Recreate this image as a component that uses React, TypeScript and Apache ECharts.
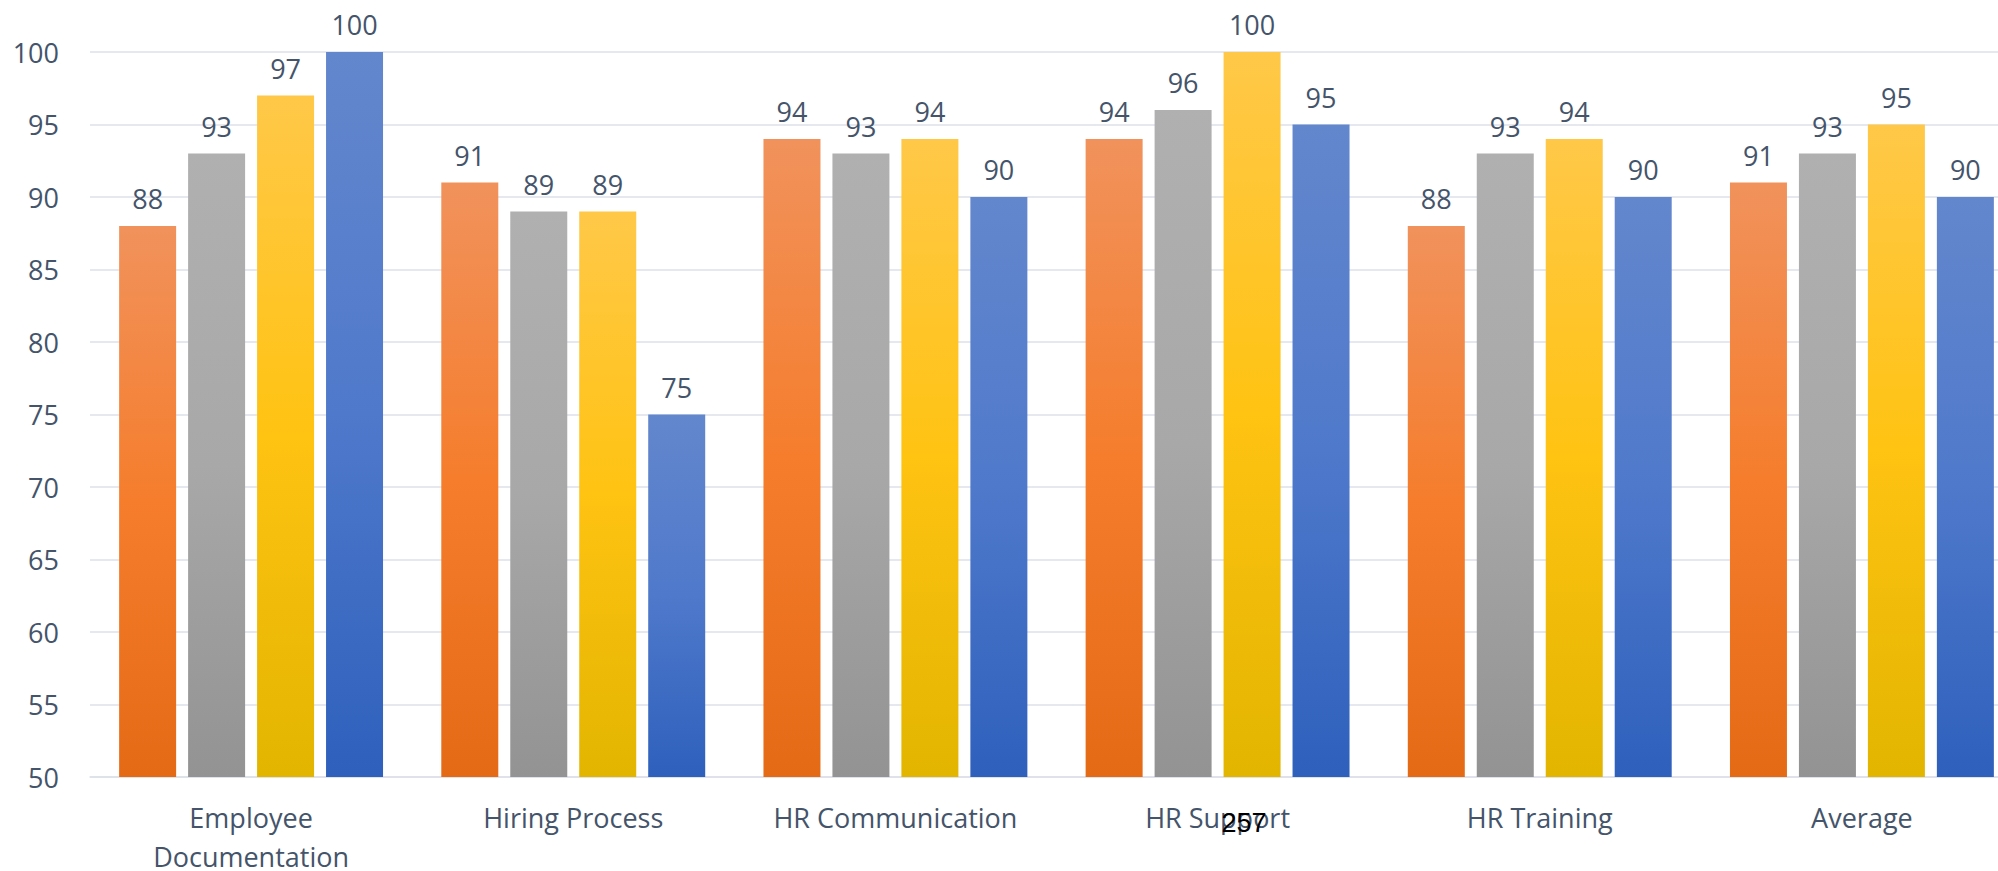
import React, { useEffect, useRef } from "react";
import * as echarts from "echarts";

const categories = [
  "Employee Documentation",
  "Hiring Process",
  "HR Communication",
  "HR Support",
  "HR Training",
  "Average",
];
const seriesNames = ["Series 1", "Series 2", "Series 3", "Series 4"];
const series1 = [88, 91, 94, 94, 88, 91];
const series2 = [93, 89, 93, 96, 93, 93];
const series3 = [97, 89, 94, 100, 94, 95];
const series4 = [100, 75, 90, 95, 90, 90];
const yTicks = { min: 50, max: 100, interval: 5 };
const overlayText = "257";

const gradients = [
  ["#F1925C", "#F57D2C", "#E56A16"],
  ["#B0B0B0", "#A8A8A8", "#939393"],
  ["#FFC848", "#FFC312", "#E2B500"],
  ["#6387CD", "#4F79CB", "#2E60BC"],
];

export default function App() {
  const ref = useRef<HTMLDivElement>(null);
  useEffect(() => {
    document.body.style.margin = "0";
    if (!ref.current) return;
    const chart = echarts.init(ref.current, null, { renderer: "svg" });
    const values = [series1, series2, series3, series4];
    const font = "'Open Sans', sans-serif";
    const textColor = "#44546A";
    chart.setOption({
      animation: false,
      grid: {
        left: 90,
        width: 1933,
        top: 52,
        bottom: 94,
        containLabel: false,
        outerBoundsMode: "none",
      },
      xAxis: {
        type: "category",
        data: categories,
        axisTick: { show: false },
        axisLine: { show: true, lineStyle: { color: "#DCE1E8", width: 1.5 } },
        axisLabel: {
          color: textColor,
          fontFamily: font,
          fontSize: 27,
          lineHeight: 39,
          margin: 21,
          interval: 0,
          formatter: (v: string) => (v.length > 20 ? v.replace(" ", "\n") : v),
        },
      },
      yAxis: {
        type: "value",
        min: yTicks.min,
        max: yTicks.max,
        interval: yTicks.interval,
        axisLine: { show: false },
        axisTick: { show: false },
        splitLine: { lineStyle: { color: "#DCE1E8", width: 1.5 } },
        axisLabel: {
          color: textColor,
          fontFamily: font,
          fontSize: 27,
          margin: 31,
        },
      },
      series: values.map((d, i) => ({
        type: "bar",
        name: seriesNames[i],
        data: d,
        barWidth: 57,
        barGap: "21%",
        itemStyle: {
          color: new echarts.graphic.LinearGradient(0, 0, 0, 1, [
            { offset: 0, color: gradients[i][0] },
            { offset: 0.5, color: gradients[i][1] },
            { offset: 1, color: gradients[i][2] },
          ]),
        },
        label: {
          show: true,
          position: "top",
          distance: 14,
          color: textColor,
          fontFamily: font,
          fontSize: 27,
        },
      })),
      graphic: [
        {
          type: "text",
          x: 1244,
          y: 823,
          style: {
            text: overlayText,
            fontFamily: "'Liberation Sans', Arial, sans-serif",
            fontSize: 27,
            fill: "#000000",
            textAlign: "center",
            textVerticalAlign: "middle",
          },
          z: 100,
        },
      ],
    });
    return () => chart.dispose();
  }, []);
  return <div ref={ref} style={{ width: 1998, height: 871 }} />;
}
